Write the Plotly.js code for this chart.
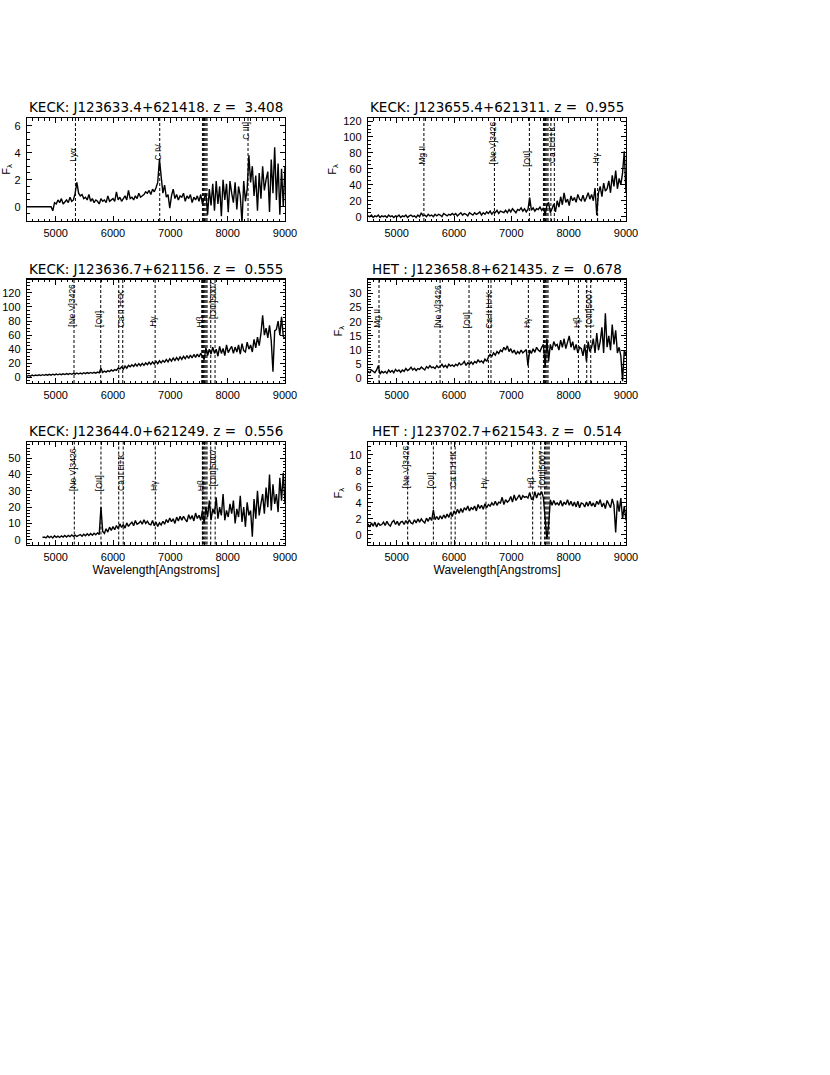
<!DOCTYPE html>
<html>
<head>
<meta charset="utf-8">
<script src="https://cdn.plot.ly/plotly-3.0.1.min.js"></script>
<style>html,body{margin:0;padding:0;background:#fff;}#chart{width:830px;height:1075px;}</style>
</head>
<body>
<div id="chart"></div>
<script>
// ---------------- DATA ----------------
const wave = [
4500,4530,4560,4590,4620,4650,4680,4710,4740,4770,
4800,4830,4860,4890,4920,4950,4980,5010,5040,5070,
5100,5130,5160,5190,5220,5250,5280,5310,5340,5370,
5400,5430,5460,5490,5520,5550,5580,5610,5640,5670,
5700,5730,5760,5790,5820,5850,5880,5910,5940,5970,
6000,6030,6060,6090,6120,6150,6180,6210,6240,6270,
6300,6330,6360,6390,6420,6450,6480,6510,6540,6570,
6600,6630,6660,6690,6720,6750,6780,6810,6840,6870,
6900,6930,6960,6990,7020,7050,7080,7110,7140,7170,
7200,7230,7260,7290,7320,7350,7380,7410,7440,7470,
7500,7530,7560,7590,7620,7650,7680,7710,7740,7770,
7800,7830,7860,7890,7920,7950,7980,8010,8040,8070,
8100,8130,8160,8190,8220,8250,8280,8310,8340,8370,
8400,8430,8460,8490,8520,8550,8580,8610,8640,8670,
8700,8730,8760,8790,8820,8850,8880,8910,8940,8970,
9000];

const flux1 = [
0,0,0,0,0,0,0,0,0,0,
0,0,0,0,0,-0.3,0.3,0.2,0.5,0.3,
0.6,0.2,0.4,0.5,0.3,0.7,0.4,0.5,1.0,1.8,
1.0,0.8,0.9,0.6,0.7,0.5,0.9,0.4,0.6,0.3,
0.5,0.4,0.2,0.6,0.4,0.5,0.3,0.8,0.4,0.5,
0.6,0.4,1.1,0.5,0.7,0.4,0.6,0.8,0.5,1.2,
0.6,0.7,0.5,0.8,0.6,1.0,0.7,0.8,0.9,1.1,
1.0,1.2,0.9,1.3,1.1,1.4,1.8,3.5,2.0,1.0,
1.6,0.7,0.9,-0.1,0.8,1.3,0.6,0.9,0.5,0.8,
0.7,1.0,0.4,0.8,0.6,0.9,0.3,0.7,0.5,0.8,
0.4,0.9,0.2,0.6,1.0,-0.6,1.3,0.1,1.7,-0.3,
1.9,0.2,1.5,-0.7,2.0,0.5,1.7,-0.4,1.9,1.0,
0.3,1.8,-0.2,1.5,0.8,-1.2,1.9,0.4,1.3,3.8,
1.8,3.0,0.8,2.3,-0.3,2.5,0.6,3.0,1.2,2.0,
2.6,-0.4,3.5,1.0,4.4,0.5,3.2,-0.6,2.8,0.0,
3.0];

const flux2 = [
1,0,2,-1,1,0,2,-1,1,0,
1,-1,2,0,1,-1,1,0,2,-1,
1,0,2,-1,1,2,0,1,-1,2,
0,5,1,2,0,3,1,2,0,3,
1,3,2,0,4,2,1,3,2,4,
2,4,1,3,5,2,4,3,1,5,
3,2,5,3,4,6,2,5,3,6,
4,7,3,6,5,8,4,7,6,5,
8,5,9,6,10,7,5,9,8,11,
7,10,6,9,24,8,11,7,10,9,
12,8,11,2,14,18,5,10,16,6,
20,12,25,15,30,18,22,14,26,20,
24,18,28,22,20,27,19,24,30,22,
28,20,36,2,30,38,25,42,32,35,
45,30,52,38,58,35,48,40,55,82,
30];

const flux3 = [
1.5,2.8,1.8,3.2,2.2,3.4,2.5,3.6,2.6,3.8,
2.9,4.0,3.1,4.3,3.2,4.5,3.4,4.6,3.6,4.9,
3.8,5.0,4.0,5.4,4.2,5.6,4.4,5.8,4.6,6.2,
4.8,6.2,5.0,6.6,5.3,6.8,5.6,7.0,5.8,7.2,
6.0,7.5,6.4,13,7.0,8.8,7.4,9.5,8.2,10.5,
9.0,11,9.8,13,12,15,11.5,16,13,17,
15,18,15.5,19,16,19.5,16.5,20,17,20.5,
18,21.5,18.5,22,19,23,19.5,23.5,20.5,24,
21.5,25.5,22,26.5,23,27.5,24,28,24.5,29,
25.5,30,26.5,31,27,31.5,27.5,32.5,28.5,33,
29,34,30,25,42,31,40,33,43,34,
40,30,44,34,41,31,46,35,40,44,
34,43,36,46,33,48,38,36,50,40,
46,36,54,42,57,45,62,88,60,70,
56,74,52,8,66,68,80,60,86,58,
55];

const flux4 = [
2.5,2,3,2.5,2,3,4.5,1.5,2.5,2,
2.5,1.8,3,2.2,2.8,2,3.2,2.5,3,2.2,
3,2.5,3.5,2.8,3.2,4,3,3.6,2.8,3.5,
3.2,4,3.5,3,4.2,3.6,4.5,3.8,4,3.5,
4.5,3.8,4.2,5,4,4.6,3.8,5,4.4,4.8,
4.2,5,4.5,5.5,4.8,5.2,6,4.6,5.5,5,
5.8,5,6,5.5,6.5,5.8,6.2,5.5,6.8,6,
7.5,8.5,7.8,9,8.2,9.5,8.8,10,9.5,11,
10,11.5,9.5,10.5,9,10,8.5,9.5,8.8,10,
9,9.8,10.2,4.5,10,8.8,10.5,9.2,11,10,
9.5,11,12,4,14,6,12,10,13,11.5,
12,10,13.5,11,14,10.5,12.5,15,11,13,
10,12,9,11,10.5,8,12,6,13,9.5,
11,14,9,16,10,13,18,9,23,11,
15,10,19,12,17,9,11,8,-1,10,
8];

const flux5 = [
null,null,null,null,null,null,null,null,null,1.5,
1.8,1.2,2.4,1.4,2.2,1.2,2.5,1.6,2.3,1.5,
2.4,1.7,2.7,1.8,2.8,2.0,3.0,2.2,2.9,2.1,
2.8,3.3,2.3,3.5,2.6,3.8,2.7,3.9,2.9,4.1,
3.2,4.3,3.4,20,5.2,4.0,6.8,4.8,7.8,5.8,
8.1,6.2,8.8,6.8,9.8,7.6,9.4,7.2,10.4,8.2,
9.8,10.8,8.7,11.8,9.6,10.2,11.4,9.6,12.3,10.1,
11.4,9.6,9.2,11.9,8.6,10.9,8.2,10.4,9.1,11.4,
9.6,12.4,10.6,13.4,11.1,12.9,10.1,13.9,11.6,14.4,
12.1,14.4,12.6,11.1,15.4,12.6,14.9,11.6,16.4,13.1,
15,12,18,10,20,14,24,12,19,16,
26,13,20,15,28,12,18,14,22,16,
24,10,19,14,27,11,20,8,23,15,
18,2,25,13,30,15,22,28,16,32,
20,40,18,34,22,28,17,38,24,41,
22];

const flux6 = [
1.4,1.0,1.5,1.1,1.6,1.0,1.5,1.2,1.3,1.6,
1.2,1.7,1.3,1.1,1.6,1.8,1.3,1.7,1.2,1.6,
1.7,1.3,1.8,1.4,1.9,1.5,1.4,1.9,1.5,2.0,
1.6,2.0,1.7,1.5,2.1,1.7,2.2,1.8,3.1,1.9,
2.3,1.9,2.4,2.0,2.5,2.1,2.6,2.2,2.8,2.3,
3.0,2.6,3.2,2.7,3.3,2.8,3.4,3.1,3.6,3.0,
3.4,3.2,3.6,3.0,3.8,3.3,3.7,3.2,3.9,3.4,
3.8,3.6,4.0,3.7,4.2,3.7,4.1,4.0,4.7,3.8,
4.4,4.1,4.3,4.8,4.1,5.0,4.3,4.6,5.0,4.4,
4.9,4.7,4.8,4.6,5.3,4.5,4.4,5.4,4.6,5.2,
5.0,5.4,4.6,2.0,-0.5,1.2,4.4,3.7,4.3,3.8,
4.0,3.7,4.3,3.6,4.1,3.8,4.4,3.7,4.2,3.6,
4.1,3.5,4.2,3.4,4.0,3.9,3.5,4.1,3.6,4.2,
3.6,4.0,3.5,4.2,3.8,4.4,3.5,4.0,3.3,4.3,
3.8,3.4,4.5,3.7,0.3,4.3,2.9,4.6,2.0,3.6,
1.8];

const titles = [
  "KECK: J123633.4+621418. z =\u00a0 3.408",
  "KECK: J123655.4+621311. z =\u00a0 0.955",
  "KECK: J123636.7+621156. z =\u00a0 0.555",
  "HET : J123658.8+621435. z =\u00a0 0.678",
  "KECK: J123644.0+621249. z =\u00a0 0.556",
  "HET : J123702.7+621543. z =\u00a0 0.514"
];

const lineWave1 = [5345, 6815, 8355];
const lineName1 = ["Lyα", "C IV", "C III]"];
const lineWave2 = [5475, 6705, 7315, 7690, 7750, 8505];
const lineName2 = ["Mg II", "[Ne V]3426", "[OII]", "", "Ca II H+K", "Hγ"];
const lineWave3 = [5320, 5786, 6100, 6170, 6735, 7548, 7705, 7780];
const lineName3 = ["[Ne V]3426", "[OII]", "", "Ca II H+K", "Hγ", "Hβ", "", "[OIII]5007"];
const lineWave4 = [4692, 5757, 6262, 6600, 6645, 7297, 8170, 8315, 8385];
const lineName4 = ["Mg II", "[Ne V]3426", "[OII]", "", "Ca II H+K", "Hγ", "Hβ", "", "[OIII]5007"];
const lineWave5 = [5325, 5790, 6100, 6178, 6738, 7560, 7705, 7782];
const lineName5 = ["[Ne V]3426", "[OII]", "", "Ca II H+K", "Hγ", "Hβ", "", "[OIII]5007"];
const lineWave6 = [5192, 5640, 5950, 6020, 6558, 7372, 7515, 7580];
const lineName6 = ["[Ne V]3426", "[OII]", "", "Ca II H+K", "Hγ", "Hβ", "", "[OIII]5007"];
// telluric A-band markers
const aBand = [7560, 7580, 7600, 7620, 7640];
const aBand6 = [7600, 7620, 7640, 7660];

// ---------------- LAYOUT ----------------
const W = 830, H = 1075;
const cols = [[27, 285], [368, 626]];
const rows = [[118, 221], [279.5, 383], [442, 544.5]];
const yRanges = [[-1.06, 6.57], [-5.4, 123.8], [-8, 139], [-1.6, 34.9], [-2.8, 59.8], [-1.19, 11.6]];
const yDticks = [2, 20, 20, 5, 10, 2];
const yMinor = [0.5, 5, 5, 1, 2, 0.5];
const labelFrac = [
  [0.56, 0.57, 0.77],
  [0.53, 0.53, 0.51, 0.54, 0.54, 0.54],
  [0.52, 0.52, 0.52, 0.52, 0.52, 0.52, 0.52, 0.6],
  [0.51, 0.51, 0.51, 0.51, 0.51, 0.51, 0.51, 0.51, 0.52],
  [0.5, 0.5, 0.5, 0.5, 0.5, 0.5, 0.5, 0.55],
  [0.53, 0.53, 0.53, 0.53, 0.53, 0.53, 0.53, 0.53]
];
const fluxes = [flux1, flux2, flux3, flux4, flux5, flux6];
const lineWaves = [lineWave1, lineWave2, lineWave3, lineWave4, lineWave5, lineWave6];
const lineNames = [lineName1, lineName2, lineName3, lineName4, lineName5, lineName6];
const bands = [aBand, aBand, aBand, aBand, aBand, aBand6];

const tickFont = {family: "Liberation Sans, Arial, sans-serif", size: 11, color: "black"};
const layout = {
  width: W, height: H,
  margin: {l: 0, r: 0, t: 0, b: 0},
  paper_bgcolor: "white", plot_bgcolor: "white",
  showlegend: false,
  shapes: [], annotations: []
};
const traces = [];

for (let i = 0; i < 6; i++) {
  const n = i + 1;
  const col = cols[i % 2], row = rows[Math.floor(i / 2)];
  const xName = n === 1 ? "xaxis" : "xaxis" + n;
  const yName = n === 1 ? "yaxis" : "yaxis" + n;
  const xRef = n === 1 ? "x" : "x" + n;
  const yRef = n === 1 ? "y" : "y" + n;
  const isBottom = i >= 4;
  const xa = {
    domain: [col[0] / W, col[1] / W], anchor: yRef,
    range: [4500, 9000], tick0: 0, dtick: 1000,
    ticks: "inside", ticklen: 5, tickwidth: 1, tickcolor: "black",
    minor: {dtick: 100, ticks: "inside", ticklen: 2.5, tickwidth: 1, tickcolor: "black"},
    showline: true, linecolor: "black", linewidth: 1.2, mirror: "allticks",
    showgrid: false, zeroline: false, tickfont: tickFont,
    ticklabelstandoff: 2
  };
  if (isBottom) {
    xa.title = {text: "Wavelength[Angstroms]", font: {family: "Liberation Sans, Arial, sans-serif", size: 12, color: "black"}, standoff: 2};
  }
  layout[xName] = xa;
  const showYT = (n === 1 || n === 2 || n === 4 || n === 6);
  const ya = {
    domain: [1 - row[1] / H, 1 - row[0] / H], anchor: xRef,
    range: yRanges[i], tick0: 0, dtick: yDticks[i],
    ticks: "inside", ticklen: 5, tickwidth: 1, tickcolor: "black",
    minor: {dtick: yMinor[i], ticks: "inside", ticklen: 2.5, tickwidth: 1, tickcolor: "black"},
    showline: true, linecolor: "black", linewidth: 1.2, mirror: "allticks",
    showgrid: false, zeroline: false, tickfont: tickFont,
    ticklabelstandoff: 3
  };
  if (showYT) {
    ya.title = {text: "F<sub>λ</sub>", font: {family: "Liberation Sans, Arial, sans-serif", size: 11, color: "black"}, standoff: 4};
  }
  layout[yName] = ya;
  traces.push({
    type: "scatter", mode: "lines", x: wave, y: fluxes[i],
    xaxis: xRef, yaxis: yRef, line: {color: "black", width: 1.4},
    hoverinfo: "skip", showlegend: false, connectgaps: false
  });
  // title
  layout.annotations.push({
    text: titles[i], xref: "paper", yref: "paper",
    x: (col[0] + col[1]) / 2 / W, y: 1 - (row[0] - 11) / H,
    xanchor: "center", yanchor: "middle", showarrow: false,
    font: {family: "DejaVu Sans, sans-serif", size: 13.5, color: "black"}
  });
  const allLines = lineWaves[i].concat(bands[i]);
  allLines.forEach(function (lw) {
    layout.shapes.push({
      type: "line", xref: xRef, yref: yRef + " domain",
      x0: lw, x1: lw, y0: 0, y1: 1,
      line: {color: "black", width: 1, dash: "3px,2px"}
    });
  });
  lineWaves[i].forEach(function (lw, k) {
    const name = lineNames[i][k];
    if (!name) return;
    layout.annotations.push({
      text: name, xref: xRef, yref: yRef + " domain",
      x: lw, y: labelFrac[i][k], xanchor: "center", yanchor: "bottom",
      xshift: -2, textangle: -90, showarrow: false,
      font: {family: "Liberation Sans, Arial, sans-serif", size: 8.5, color: "black"}
    });
  });
}

Plotly.newPlot("chart", traces, layout, {displayModeBar: false, staticPlot: true});
</script>
</body>
</html>
